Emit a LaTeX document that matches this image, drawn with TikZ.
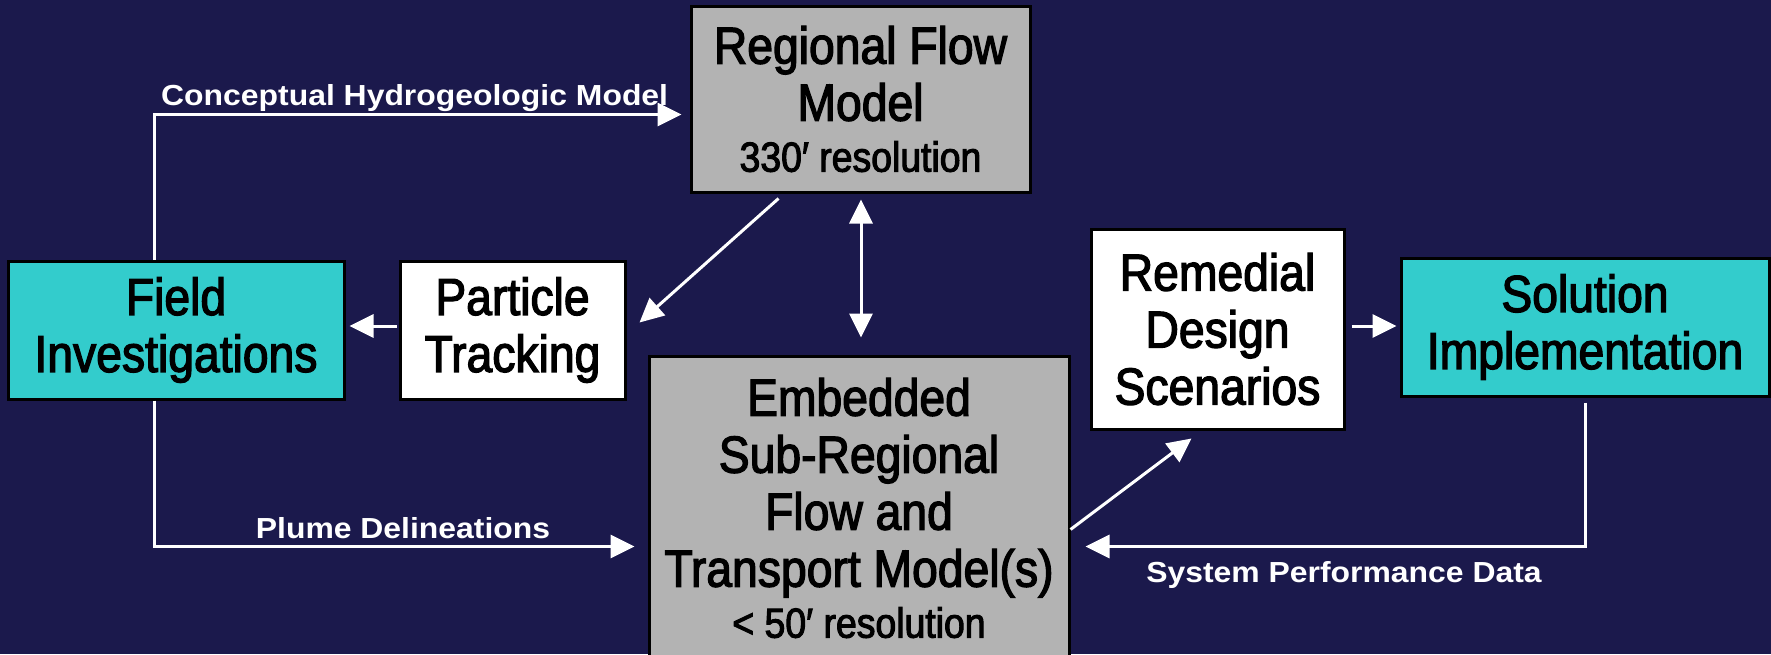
\documentclass[tikz,border=0pt]{standalone}
\usepackage{fontspec}
\setmainfont{Liberation Sans}
\newfontfamily\boxfont{Liberation Sans}[FakeStretch=0.89, FakeBold=2.4]
\newfontfamily\lblfont{Liberation Sans}[FakeStretch=1.1]
\usetikzlibrary{arrows.meta,calc}
\definecolor{navy}{RGB}{27,25,76}
\definecolor{boxgray}{RGB}{179,179,179}
\definecolor{boxcyan}{RGB}{51,204,204}
\newcommand{\smalltxt}{\fontsize{42}{50}\selectfont}
\tikzset{
  basebox/.style={draw=black, line width=3pt, inner sep=0pt, align=center, text=black,
    font=\boxfont\fontsize{52}{57}\selectfont},
  graybox/.style={basebox, fill=boxgray},
  cyanbox/.style={basebox, fill=boxcyan},
  whitebox/.style={basebox, fill=white},
  conn/.style={draw=white, line width=3pt, -{Triangle[length=24pt,width=23pt]}},
  dconn/.style={draw=white, line width=3pt, {Triangle[length=24pt,width=23pt]}-{Triangle[length=24pt,width=23pt]}},
  lbl/.style={text=white, inner sep=0pt, font=\lblfont\bfseries\fontsize{29}{34}\selectfont},
}
\begin{document}
\begin{tikzpicture}[x=1pt,y=-1pt]
\useasboundingbox (0,0) rectangle (1771,654);
\clip (0,0) rectangle (1771,654);
\fill[navy] (0,0) rectangle (1771,654);

\node[graybox, minimum width=339pt, minimum height=186pt] (reg) at (860.5,99)
  {Regional Flow\\Model\\[-6pt]{\smalltxt 330′ resolution}};
\node[cyanbox, minimum width=336pt, minimum height=138pt] (field) at (176,330)
  {Field\\Investigations};
\node[whitebox, minimum width=225pt, minimum height=138pt] (part) at (512.5,330)
  {Particle\\Tracking};
\node[graybox, minimum width=420pt, minimum height=344pt] (emb) at (859,528) {};
\node[align=center, inner sep=0pt, text=black, font=\boxfont\fontsize{52}{57}\selectfont] (embtxt) at (859,508)
  {Embedded\\Sub-Regional\\Flow and\\Transport Model(s)\\[-6pt]{\smalltxt < 50′ resolution}};
\node[whitebox, minimum width=253pt, minimum height=200pt] (rem) at (1217.5,329)
  {Remedial\\Design\\Scenarios};
\node[cyanbox, minimum width=368pt, minimum height=138pt] (sol) at (1585,327)
  {Solution\\Implementation};

% connectors
\draw[conn] ($(field.north west)+(148,0)$) |- ($(reg.north west)+(-8,110)$);
\node[lbl, anchor=base west] (lconc) at (161,105) {Conceptual Hydrogeologic Model};

\draw[conn] ($(field.south west)+(148,0)$) |- ($(emb.north west)+(-13,192)$);
\node[lbl, anchor=base] (lplume) at (403,538) {Plume Delineations};

\draw[conn] ($(part.west)+(-2,-4)$) -- ($(field.east)+(4,-4)$);
\draw[conn] ($(reg.south west)+(89,5)$) -- ($(part.north east)+(13,63)$);
\draw[dconn] ($(reg.south)+(0.5,6)$) -- ($(emb.north)+(2,-17)$);
\draw[conn] ($(emb.north east)+(0,175)$) -- ($(rem.south west)+(102,8)$);
\draw[conn] ($(rem.east)+(6,-3)$) -- ($(sol.west)+(-3,-1)$);
\draw[conn] ($(sol.south)+(0,5)$) |- ($(emb.north east)+(15,192)$);
\node[lbl, anchor=base] (lsys) at (1344,582) {System Performance Data};
\end{tikzpicture}
\end{document}
